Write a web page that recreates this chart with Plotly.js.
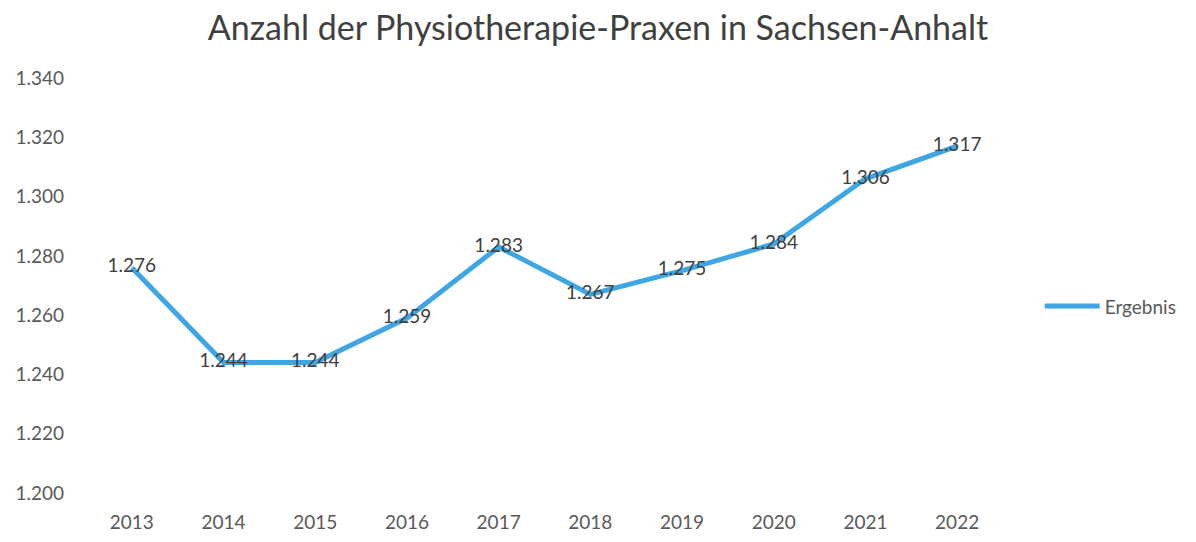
<!DOCTYPE html>
<html>
<head>
<meta charset="utf-8">
<script src="https://cdn.plot.ly/plotly-3.0.1.min.js"></script>
<style>html,body{margin:0;padding:0;background:#fff;}#chart{width:1196px;height:542px;}</style>
</head>
<body>
<div id="chart"></div>
<script>
const years = ['2013','2014','2015','2016','2017','2018','2019','2020','2021','2022'];
const ergebnis = [1276, 1244, 1244, 1259, 1283, 1267, 1275, 1284, 1306, 1317];
const yTicks = [1200, 1220, 1240, 1260, 1280, 1300, 1320, 1340];
const seriesName = 'Ergebnis';
const chartTitle = 'Anzahl der Physiotherapie-Praxen in Sachsen-Anhalt';

const fmt = v => { const s = String(v); return s.length > 3 ? s.slice(0, s.length-3) + '.' + s.slice(-3) : s; };
const FONT = 'Lato, "Open Sans", sans-serif';

const trace = {
  x: years,
  y: ergebnis,
  type: 'scatter',
  mode: 'lines+text',
  name: seriesName,
  line: {color: '#3ea6e3', width: 5},
  text: ergebnis.map(fmt),
  textposition: 'middle center',
  textfont: {family: FONT, size: 19, color: '#404040'},
  cliponaxis: false,
  hoverinfo: 'x+y'
};

const layout = {
  width: 1196, height: 542,
  paper_bgcolor: '#ffffff', plot_bgcolor: '#ffffff',
  margin: {l: 86, r: 193, t: 78, b: 49},
  title: {text: chartTitle, x: 0.5, xanchor: 'center', y: 0.948, yanchor: 'middle',
          font: {family: FONT, size: 34, color: '#404040'}},
  xaxis: {type: 'category', showgrid: false, zeroline: false, showline: false,
          ticks: 'outside', ticklen: 0, ticklabelstandoff: 12,
          tickfont: {family: FONT, size: 19, color: '#595959'}},
  yaxis: {range: [1200, 1340], tickvals: yTicks, ticktext: yTicks.map(fmt),
          showgrid: false, zeroline: false, showline: false, ticklabelstandoff: 21,
          tickfont: {family: FONT, size: 19, color: '#595959'}},
  showlegend: true,
  legend: {x: 1.04, xanchor: 'left', y: 0.45, yanchor: 'middle', itemwidth: 55,
           font: {family: FONT, size: 19, color: '#595959'}}
};

Plotly.newPlot('chart', [trace], layout, {displayModeBar: false, staticPlot: true});
</script>
</body>
</html>
